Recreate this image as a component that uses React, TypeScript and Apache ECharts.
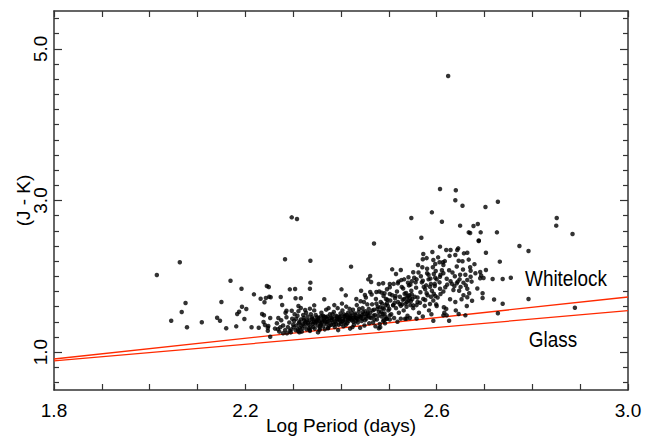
import React, { useEffect, useRef } from "react";
import * as echarts from "echarts";

// Tick positions and labels
const xTickValues = [1.8, 1.9, 2.0, 2.1, 2.2, 2.3, 2.4, 2.5, 2.6, 2.7, 2.8, 2.9, 3.0];
const xLabelValues = [1.8, 2.2, 2.6, 3.0];
const yMinorTickValues = [0.6, 0.8, 1.2, 1.4, 1.6, 1.8, 2.0, 2.2, 2.4, 2.6, 2.8, 3.2, 3.4, 3.6, 3.8, 4.0, 4.2, 4.4, 4.6, 4.8, 5.2, 5.4];
const yMajorTickValues = [1.0, 3.0, 5.0];

// Relation lines (Log P, J-K)
const whitelockLine = [[1.8, 0.909], [3.0, 1.727]];
const glassLine = [[1.8, 0.883], [3.0, 1.546]];

// Individually read stars (Log P, J-K)
const sparseStars = [
  [2.015, 2.017], [2.063, 2.185], [2.075, 1.648], [2.067, 1.529], [2.045, 1.414], [2.078, 1.327], [2.109, 1.393],
  [2.150, 1.661], [2.169, 1.942], [2.141, 1.454], [2.147, 1.414], [2.160, 1.314], [2.181, 1.340], [2.192, 1.836],
  [2.193, 1.599], [2.187, 1.533], [2.183, 1.503], [2.202, 1.569], [2.198, 1.437], [2.218, 1.762], [2.232, 1.704],
  [2.243, 1.713], [2.240, 1.657], [2.245, 1.872], [2.249, 1.859], [2.213, 1.327], [2.228, 1.322], [2.235, 1.503],
  [2.239, 1.486], [2.238, 1.397], [2.241, 1.358], [2.247, 1.322], [2.247, 1.282], [2.250, 1.731], [2.297, 2.778],
  [2.308, 2.756], [2.469, 2.433], [2.283, 2.224], [2.336, 2.206], [2.421, 2.127], [2.461, 2.004], [2.457, 1.960],
  [2.463, 1.925], [2.479, 1.898], [2.336, 1.916], [2.335, 1.836], [2.293, 1.828], [2.304, 1.832], [2.401, 1.828],
  [2.253, 1.723], [2.274, 1.727], [2.305, 1.710], [2.316, 1.710], [2.365, 1.697], [2.410, 1.749], [2.442, 1.810],
  [2.450, 1.753], [2.461, 1.793], [2.474, 1.793], [2.485, 1.784], [2.277, 1.621], [2.286, 1.546], [2.297, 1.546],
  [2.311, 1.608], [2.316, 1.582], [2.325, 1.555], [2.335, 1.573], [2.344, 1.617], [2.269, 1.450], [2.252, 1.450],
  [2.268, 1.301], [2.273, 1.327], [2.248, 1.344], [2.252, 1.203], [2.279, 1.248], [2.293, 1.282], [2.311, 1.274],
  [2.479, 1.314], [2.287, 1.248], [2.313, 1.261], [2.335, 1.291], [2.356, 1.309], [2.373, 1.314],
  [2.607, 2.391], [2.629, 2.347], [2.643, 2.347], [2.688, 2.466], [2.572, 2.294], [2.591, 2.320], [2.639, 2.281],
  [2.657, 2.303], [2.664, 2.311], [2.703, 2.311], [2.593, 2.215], [2.606, 2.185], [2.613, 2.185], [2.646, 2.206],
  [2.654, 2.198], [2.571, 2.224], [2.597, 2.162], [2.614, 2.149], [2.570, 2.119], [2.670, 2.119], [2.671, 2.074],
  [2.507, 2.092], [2.525, 2.083], [2.515, 2.030], [2.551, 2.053], [2.580, 2.040], [2.594, 2.030], [2.614, 2.040],
  [2.649, 2.021], [2.660, 2.021], [2.671, 1.995], [2.681, 2.040], [2.691, 2.057], [2.703, 2.083], [2.541, 1.987],
  [2.558, 1.960], [2.571, 1.942], [2.583, 1.960], [2.600, 1.960], [2.607, 1.995], [2.621, 1.968], [2.629, 1.934],
  [2.642, 1.908], [2.656, 1.916], [2.664, 1.951], [2.691, 1.974], [2.488, 1.908], [2.502, 1.898], [2.519, 1.908],
  [2.532, 1.960], [2.540, 1.916], [2.548, 1.934], [2.586, 1.863], [2.596, 1.872], [2.607, 1.836], [2.618, 1.855],
  [2.635, 1.819], [2.647, 1.810], [2.664, 1.836], [2.668, 1.776], [2.696, 1.776], [2.491, 1.776], [2.502, 1.767],
  [2.514, 1.740], [2.579, 1.776], [2.588, 1.731], [2.597, 1.740], [2.608, 1.767], [2.628, 1.697], [2.639, 1.661],
  [2.652, 1.697], [2.664, 1.723], [2.674, 1.678], [2.696, 1.714], [2.496, 1.644], [2.509, 1.617], [2.523, 1.634],
  [2.537, 1.599], [2.551, 1.617], [2.565, 1.652], [2.576, 1.687], [2.586, 1.634], [2.600, 1.608], [2.615, 1.591],
  [2.614, 1.485], [2.621, 1.485], [2.646, 1.503], [2.660, 1.485], [2.487, 1.503], [2.493, 1.467], [2.502, 1.485],
  [2.490, 1.423], [2.496, 1.441], [2.525, 1.441], [2.537, 1.441], [2.544, 1.450], [2.558, 1.441], [2.593, 1.414],
  [2.626, 1.414], [2.482, 1.327],
  [2.607, 3.152], [2.640, 3.135], [2.639, 3.003], [2.654, 2.931], [2.728, 2.984], [2.702, 2.914], [2.590, 2.844],
  [2.547, 2.769], [2.611, 2.720], [2.649, 2.668], [2.677, 2.664], [2.686, 2.690], [2.667, 2.580], [2.670, 2.571],
  [2.692, 2.580], [2.726, 2.580], [2.568, 2.509], [2.688, 2.472],
  [2.851, 2.769], [2.850, 2.668], [2.884, 2.558], [2.773, 2.400], [2.792, 2.334], [2.732, 2.193], [2.698, 1.977],
  [2.717, 1.964], [2.738, 1.964], [2.755, 1.981], [2.720, 1.694], [2.738, 1.638], [2.792, 1.700], [2.728, 1.512],
  [2.889, 1.586], [2.663, 1.608], [2.502, 1.855], [2.620, 2.347], [2.645, 2.369], [2.624, 4.642],
];

// Crowded core of the distribution (Log P, J-K), read as well as the blur allows
const coreStars = [
  [2.262, 1.31], [2.266, 1.38], [2.271, 1.27], [2.275, 1.42], [2.279, 1.35], [2.283, 1.29], [2.286, 1.46], [2.289, 1.33],
  [2.292, 1.39], [2.295, 1.26], [2.298, 1.44], [2.300, 1.36], [2.284, 1.52], [2.296, 1.30],
  [2.302, 1.41], [2.305, 1.29], [2.307, 1.35], [2.309, 1.48], [2.312, 1.38], [2.314, 1.32], [2.316, 1.43], [2.318, 1.27],
  [2.320, 1.37], [2.322, 1.45], [2.324, 1.34], [2.326, 1.40], [2.328, 1.30], [2.330, 1.47], [2.332, 1.36], [2.334, 1.42],
  [2.336, 1.33], [2.338, 1.39], [2.303, 1.50], [2.311, 1.54], [2.319, 1.31], [2.327, 1.52], [2.335, 1.28], [2.339, 1.46],
  [2.341, 1.37], [2.343, 1.43], [2.345, 1.31], [2.347, 1.49], [2.349, 1.40], [2.351, 1.35], [2.353, 1.45], [2.355, 1.29],
  [2.357, 1.38], [2.359, 1.52], [2.361, 1.42], [2.363, 1.34], [2.365, 1.47], [2.367, 1.39], [2.369, 1.56], [2.371, 1.44],
  [2.373, 1.32], [2.375, 1.41], [2.377, 1.50], [2.379, 1.36], [2.344, 1.55], [2.352, 1.26], [2.358, 1.47], [2.366, 1.30],
  [2.374, 1.58], [2.348, 1.41], [2.362, 1.48], [2.370, 1.37],
  [2.381, 1.45], [2.383, 1.39], [2.385, 1.53], [2.387, 1.33], [2.389, 1.48], [2.391, 1.42], [2.393, 1.58], [2.395, 1.36],
  [2.397, 1.46], [2.399, 1.51], [2.401, 1.40], [2.403, 1.55], [2.405, 1.34], [2.407, 1.47], [2.409, 1.43], [2.411, 1.60],
  [2.413, 1.38], [2.415, 1.52], [2.417, 1.45], [2.419, 1.31], [2.386, 1.62], [2.394, 1.29], [2.402, 1.64], [2.410, 1.36],
  [2.418, 1.57], [2.384, 1.44], [2.398, 1.41], [2.412, 1.49], [2.390, 1.37], [2.406, 1.50],
  [2.421, 1.48], [2.423, 1.42], [2.425, 1.56], [2.427, 1.36], [2.429, 1.51], [2.431, 1.45], [2.433, 1.62], [2.435, 1.39],
  [2.437, 1.53], [2.439, 1.47], [2.441, 1.67], [2.443, 1.41], [2.445, 1.58], [2.447, 1.50], [2.449, 1.35], [2.451, 1.54],
  [2.453, 1.44], [2.455, 1.63], [2.457, 1.48], [2.459, 1.38], [2.424, 1.33], [2.432, 1.70], [2.440, 1.32], [2.448, 1.66],
  [2.456, 1.52], [2.428, 1.46], [2.444, 1.49], [2.452, 1.72], [2.436, 1.43], [2.458, 1.57],
  [2.461, 1.52], [2.463, 1.45], [2.465, 1.63], [2.467, 1.39], [2.469, 1.56], [2.471, 1.49], [2.473, 1.70], [2.475, 1.43],
  [2.477, 1.60], [2.479, 1.53], [2.481, 1.37], [2.483, 1.66], [2.485, 1.47], [2.487, 1.58], [2.489, 1.74], [2.491, 1.51],
  [2.493, 1.62], [2.495, 1.44], [2.497, 1.69], [2.499, 1.55], [2.464, 1.76], [2.472, 1.34], [2.480, 1.80], [2.488, 1.41],
  [2.496, 1.83], [2.468, 1.48], [2.476, 1.57], [2.484, 1.53], [2.492, 1.38], [2.498, 1.61],
  [2.501, 1.57], [2.503, 1.68], [2.505, 1.50], [2.507, 1.75], [2.509, 1.62], [2.511, 1.45], [2.513, 1.71], [2.515, 1.58],
  [2.517, 1.80], [2.519, 1.66], [2.521, 1.52], [2.523, 1.73], [2.525, 1.61], [2.527, 1.86], [2.529, 1.69], [2.531, 1.55],
  [2.533, 1.77], [2.535, 1.64], [2.537, 1.72], [2.539, 1.48], [2.541, 1.68], [2.543, 1.75], [2.545, 1.62], [2.547, 1.81],
  [2.549, 1.70], [2.502, 1.43], [2.510, 1.90], [2.518, 1.40], [2.526, 1.95], [2.534, 1.44], [2.542, 1.88], [2.536, 1.78],
  [2.538, 1.66], [2.540, 1.74], [2.544, 1.71], [2.546, 1.67], [2.548, 1.76], [2.532, 1.70], [2.528, 1.63], [2.512, 1.65],
  [2.551, 1.58], [2.554, 1.73], [2.557, 1.85], [2.560, 1.66], [2.563, 1.52], [2.566, 1.79], [2.569, 1.92], [2.572, 1.70],
  [2.575, 1.61], [2.578, 1.88], [2.581, 1.75], [2.584, 1.55], [2.587, 1.97], [2.590, 1.81], [2.593, 1.68], [2.596, 1.90],
  [2.599, 1.63], [2.553, 1.98], [2.562, 2.05], [2.571, 1.47], [2.580, 2.10], [2.589, 1.50], [2.598, 2.07], [2.558, 1.62],
  [2.576, 1.83], [2.594, 1.77],
  [2.602, 1.72], [2.608, 2.02], [2.614, 1.80], [2.620, 1.57], [2.626, 2.08], [2.632, 1.90], [2.638, 2.00], [2.644, 1.93],
  [2.650, 1.86], [2.656, 1.75], [2.616, 1.52], [2.640, 1.55],
  [2.301, 1.33], [2.306, 1.44], [2.310, 1.30], [2.313, 1.40], [2.317, 1.35], [2.321, 1.49], [2.325, 1.38], [2.329, 1.42],
  [2.333, 1.31], [2.337, 1.50], [2.340, 1.44], [2.342, 1.33], [2.346, 1.38], [2.350, 1.46], [2.354, 1.41], [2.356, 1.34],
  [2.360, 1.39], [2.364, 1.43], [2.368, 1.46], [2.372, 1.40], [2.376, 1.35], [2.378, 1.45], [2.382, 1.50], [2.388, 1.40],
  [2.392, 1.47], [2.396, 1.43], [2.400, 1.37], [2.404, 1.44], [2.408, 1.39], [2.414, 1.46], [2.416, 1.41], [2.420, 1.44],
  [2.422, 1.52], [2.426, 1.40], [2.430, 1.49], [2.434, 1.44], [2.438, 1.57], [2.442, 1.46], [2.446, 1.53], [2.450, 1.42],
  [2.454, 1.50], [2.460, 1.46], [2.466, 1.55], [2.470, 1.43], [2.474, 1.64], [2.478, 1.48], [2.482, 1.59], [2.486, 1.64],
  [2.490, 1.57], [2.494, 1.70],
  [2.556, 1.92], [2.561, 2.15], [2.567, 2.00], [2.573, 1.86], [2.579, 2.24], [2.583, 2.02], [2.588, 1.90], [2.592, 2.12],
  [2.597, 1.98], [2.603, 2.25], [2.606, 1.92], [2.611, 2.08], [2.617, 2.20], [2.622, 1.89], [2.627, 2.27], [2.633, 2.05],
  [2.637, 1.87], [2.642, 2.13], [2.648, 1.96], [2.655, 2.09], [2.661, 1.88], [2.667, 2.22], [2.673, 1.93], [2.679, 2.16],
  [2.685, 1.84], [2.693, 2.01], [2.530, 1.84], [2.520, 1.93], [2.545, 1.89], [2.560, 1.72],
  [2.323, 1.42], [2.331, 1.38], [2.344, 1.40], [2.352, 1.43], [2.358, 1.36], [2.366, 1.41], [2.372, 1.47], [2.380, 1.42],
  [2.385, 1.36], [2.392, 1.44], [2.399, 1.47], [2.404, 1.41], [2.409, 1.48], [2.414, 1.43], [2.419, 1.47], [2.425, 1.45],
  [2.431, 1.41], [2.437, 1.48], [2.445, 1.44], [2.452, 1.47],
];

const FONT = "'Liberation Sans', Arial, Helvetica, sans-serif";
const AXIS_COLOR = "#333";
const RED = "#ff2a00";

export default function App() {
  const ref = useRef<HTMLDivElement>(null);
  useEffect(() => {
    if (!ref.current) return;
    const chart = echarts.init(ref.current, undefined, { renderer: "svg" });
    const axisLine = { show: true, lineStyle: { color: AXIS_COLOR, width: 1.5 } };
    const xBase = { type: "value", min: 1.8, max: 3.0, splitLine: { show: false } };
    const yBase = { type: "value", min: 0.5, max: 5.5, splitLine: { show: false } };
    chart.setOption({
      animation: false,
      backgroundColor: "#fff",
      grid: { left: 54, right: 24, top: 11, bottom: 48, containLabel: false, outerBoundsMode: "none" },
      xAxis: [
        {
          ...xBase,
          position: "bottom",
          axisLine,
          axisTick: { show: true, inside: true, length: 6, customValues: xTickValues, lineStyle: { color: AXIS_COLOR, width: 1.2 } },
          axisLabel: {
            show: true,
            customValues: xLabelValues,
            formatter: (v: number) => v.toFixed(1),
            color: "#000",
            fontSize: 19,
            fontFamily: FONT,
            margin: 11,
          },
          name: "Log Period (days)",
          nameLocation: "middle",
          nameGap: 26,
          nameMoveOverlap: false,
          nameTextStyle: { color: "#000", fontSize: 19, fontFamily: FONT },
        },
        {
          ...xBase,
          position: "top",
          axisLine,
          axisTick: { show: true, inside: true, length: 6, customValues: xTickValues, lineStyle: { color: AXIS_COLOR, width: 1.2 } },
          axisLabel: { show: false },
        },
      ],
      yAxis: [
        {
          ...yBase,
          position: "left",
          axisLine,
          axisTick: { show: true, inside: true, length: 5, customValues: yMinorTickValues, lineStyle: { color: AXIS_COLOR, width: 1.2 } },
          axisLabel: {
            show: true,
            customValues: yMajorTickValues,
            formatter: (v: number) => v.toFixed(1),
            rotate: 90,
            color: "#000",
            fontSize: 19,
            fontFamily: FONT,
            margin: 4,
          },
          name: "(J - K)",
          nameLocation: "middle",
          nameGap: 21,
          nameMoveOverlap: false,
          nameRotate: 90,
          nameTextStyle: { color: "#000", fontSize: 19, fontFamily: FONT },
        },
        {
          ...yBase,
          position: "left",
          axisLine: { show: false },
          axisTick: { show: true, inside: true, length: 8, customValues: yMajorTickValues, lineStyle: { color: AXIS_COLOR, width: 1.2 } },
          axisLabel: { show: false },
        },
        {
          ...yBase,
          position: "right",
          axisLine,
          axisTick: { show: true, inside: true, length: 5, customValues: yMinorTickValues, lineStyle: { color: AXIS_COLOR, width: 1.2 } },
          axisLabel: { show: false },
        },
        {
          ...yBase,
          position: "right",
          axisLine: { show: false },
          axisTick: { show: true, inside: true, length: 8, customValues: yMajorTickValues, lineStyle: { color: AXIS_COLOR, width: 1.2 } },
          axisLabel: { show: false },
        },
      ],
      series: [
        {
          name: "Whitelock",
          type: "line",
          data: whitelockLine,
          showSymbol: false,
          symbol: "none",
          lineStyle: { color: RED, width: 1.3 },
          z: 3,
        },
        {
          name: "Glass",
          type: "line",
          data: glassLine,
          showSymbol: false,
          symbol: "none",
          lineStyle: { color: RED, width: 1.3 },
          z: 3,
        },
        {
          name: "stars",
          type: "scatter",
          data: sparseStars.concat(coreStars),
          symbol: "circle",
          symbolSize: 4.5,
          itemStyle: { color: "#000" },
          z: 4,
        },
      ],
      graphic: [
        {
          type: "text",
          x: 566,
          y: 278,
          scaleX: 0.86,
          style: { text: "Whitelock", fill: "#000", fontSize: 22, fontFamily: FONT, align: "center", verticalAlign: "middle" },
        },
        {
          type: "text",
          x: 553,
          y: 339,
          scaleX: 0.86,
          style: { text: "Glass", fill: "#000", fontSize: 22, fontFamily: FONT, align: "center", verticalAlign: "middle" },
        },
      ],
    });
    return () => chart.dispose();
  }, []);
  return <div ref={ref} style={{ position: "fixed", left: 0, top: 0, width: 652, height: 438, background: "#fff" }} />;
}
